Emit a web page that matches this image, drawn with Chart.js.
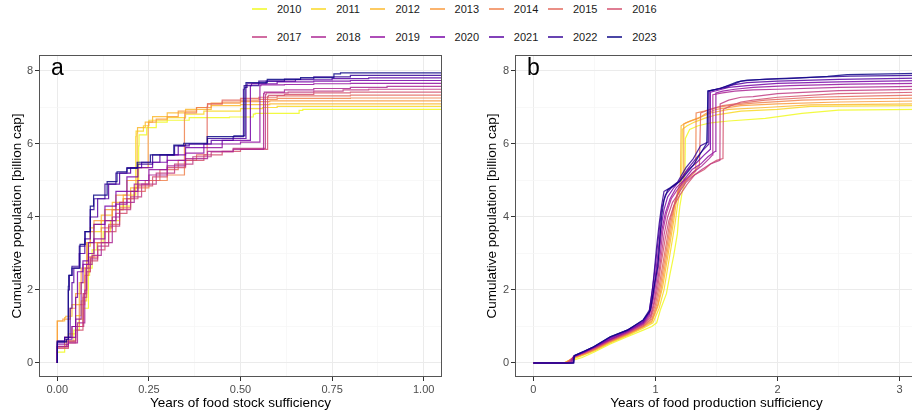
<!DOCTYPE html>
<html>
<head>
<meta charset="utf-8">
<title>Food sufficiency by year</title>
<script src="https://cdn.jsdelivr.net/npm/chart.js@4.4.1/dist/chart.umd.min.js"></script>
<style>
    html, body { margin: 0; padding: 0; background: #fff; overflow: hidden; }
    body { width: 912px; height: 416px; position: relative; font-family: 'Liberation Sans', Arial, sans-serif; }
    canvas { position: absolute; top: 0; }
    #chart-a { left: 0; }
    #chart-b { left: 456px; }
    .legend-item { position: absolute; height: 14px; display: flex; align-items: center; font-size: 11px; color: #1a1a1a; white-space: nowrap; }
    .legend-item .swatch { display: inline-block; width: 15px; height: 2px; margin-right: 10px; }
</style>
</head>
<body>
<div id="legend"></div>
<canvas id="chart-a" width="456" height="416"></canvas>
<canvas id="chart-b" width="462" height="416"></canvas>
<script>
/* =====================================================
   Data
   ===================================================== */
const years = ['2010', '2011', '2012', '2013', '2014', '2015', '2016',
               '2017', '2018', '2019', '2020', '2021', '2022', '2023'];
const yearColors = ['#F0F921', '#F9D824', '#FCB92E', '#F99B3D', '#F0824D', '#E3695E', '#D4526F',
                    '#C13C82', '#AB2693', '#9312A0', '#7603A7', '#5802A2', '#350598', '#0D0887'];

// panel a: [years of food stock sufficiency, cumulative population (billion)]
const stock2010 = [[0,0],[0,0.2],[0.02,0.3],[0.045,0.6],[0.06,0.9],[0.071,1.2],[0.085,1.5],[0.088,2.4],[0.095,2.6],[0.108,3.1],[0.125,3.3],[0.145,3.6],[0.17,3.9],[0.2,4.3],[0.213,4.7],[0.222,4.8],[0.223,5.95],[0.244,6.25],[0.27,6.45],[0.3,6.6],[0.36,6.65],[0.47,6.72],[0.535,6.74],[0.54,6.82],[0.66,6.84],[0.67,6.92],[1.1,6.95]];
const stock2011 = [[0,0],[0,0.3],[0.03,0.45],[0.05,0.8],[0.065,1.3],[0.08,1.7],[0.083,2.8],[0.1,3.3],[0.12,3.6],[0.15,3.9],[0.18,4.2],[0.2,4.5],[0.214,4.6],[0.215,6.2],[0.235,6.35],[0.25,6.5],[0.3,6.65],[0.35,6.72],[0.4,6.82],[0.5,6.9],[0.56,6.97],[0.6,7.0],[1.1,7.03]];
const stock2012 = [[0,0],[0,1.1],[0.02,1.15],[0.023,1.24],[0.04,1.28],[0.06,1.6],[0.075,2.2],[0.085,2.6],[0.09,3.2],[0.1,3.7],[0.12,3.8],[0.15,4.05],[0.18,4.4],[0.2,4.6],[0.218,4.8],[0.219,6.3],[0.24,6.45],[0.26,6.6],[0.3,6.75],[0.35,6.85],[0.42,6.95],[0.5,7.05],[0.58,7.08],[1.1,7.1]];
const stock2013 = [[0,0],[0,1.05],[0.015,1.15],[0.035,1.2],[0.05,1.5],[0.065,1.9],[0.08,2.6],[0.09,3.3],[0.1,3.6],[0.13,3.9],[0.16,4.2],[0.19,4.6],[0.22,5.0],[0.248,5.35],[0.249,6.5],[0.27,6.6],[0.3,6.68],[0.33,6.75],[0.38,6.9],[0.42,7.0],[0.5,7.12],[0.58,7.16],[1.1,7.18]];
const stock2014 = [[0,0],[0,0.35],[0.02,0.45],[0.04,0.7],[0.06,1.0],[0.075,1.6],[0.085,2.4],[0.1,2.9],[0.12,3.3],[0.15,3.7],[0.18,4.2],[0.21,4.5],[0.25,4.8],[0.3,5.0],[0.347,5.15],[0.348,6.7],[0.38,6.85],[0.41,7.0],[0.45,7.1],[0.5,7.15],[0.55,7.2],[0.6,7.22],[0.8,7.25],[1.1,7.26]];
const stock2015 = [[0,0],[0,0.3],[0.03,0.45],[0.05,0.6],[0.07,1.0],[0.08,1.9],[0.09,2.5],[0.11,2.9],[0.14,3.3],[0.17,3.8],[0.2,4.25],[0.24,4.7],[0.28,5.0],[0.33,5.3],[0.38,5.55],[0.409,5.7],[0.41,7.02],[0.45,7.1],[0.5,7.2],[0.55,7.25],[0.6,7.28],[0.8,7.32],[1.1,7.34]];
const stock2016 = [[0,0],[0,0.3],[0.03,0.4],[0.05,0.55],[0.07,0.9],[0.08,1.8],[0.09,2.5],[0.11,2.8],[0.13,3.1],[0.16,3.6],[0.19,4.1],[0.22,4.5],[0.26,4.85],[0.3,5.1],[0.35,5.35],[0.4,5.55],[0.45,5.7],[0.5,5.8],[0.574,5.85],[0.576,7.3],[0.62,7.33],[0.7,7.36],[0.8,7.4],[1.1,7.42]];
const stock2017 = [[0,0],[0,0.35],[0.025,0.45],[0.05,0.6],[0.072,1.0],[0.078,1.9],[0.09,2.6],[0.11,2.85],[0.14,3.2],[0.17,3.75],[0.2,4.2],[0.23,4.55],[0.27,4.9],[0.32,5.2],[0.37,5.45],[0.42,5.65],[0.48,5.78],[0.568,5.88],[0.57,7.35],[0.63,7.4],[0.7,7.42],[0.78,7.45],[0.85,7.48],[1.1,7.5]];
const stock2018 = [[0,0],[0,0.3],[0.03,0.45],[0.055,0.55],[0.075,1.1],[0.08,2.0],[0.095,2.7],[0.12,2.95],[0.15,3.3],[0.17,4.0],[0.21,4.4],[0.25,4.9],[0.3,5.15],[0.35,5.4],[0.41,5.6],[0.48,5.8],[0.563,5.85],[0.565,7.38],[0.62,7.42],[0.7,7.48],[0.8,7.52],[0.9,7.55],[1.1,7.58]];
const stock2019 = [[0,0],[0,0.35],[0.03,0.5],[0.05,0.7],[0.065,1.2],[0.07,2.2],[0.085,2.7],[0.1,3.0],[0.13,3.4],[0.16,3.9],[0.19,4.35],[0.22,4.7],[0.25,5.0],[0.3,5.3],[0.35,5.55],[0.4,5.75],[0.45,5.9],[0.5,6.0],[0.553,6.05],[0.556,7.6],[0.62,7.62],[0.7,7.63],[0.8,7.65],[1.1,7.66]];
const stock2020 = [[0,0],[0,0.4],[0.02,0.55],[0.04,0.65],[0.05,1.0],[0.055,1.8],[0.07,2.5],[0.085,2.8],[0.1,3.3],[0.13,3.8],[0.16,4.3],[0.19,4.7],[0.22,5.1],[0.26,5.35],[0.3,5.5],[0.35,5.7],[0.4,5.9],[0.45,6.0],[0.527,6.1],[0.53,7.6],[0.6,7.65],[0.7,7.7],[0.8,7.72],[1.1,7.74]];
const stock2021 = [[0,0],[0,0.45],[0.02,0.6],[0.035,0.7],[0.04,1.5],[0.045,2.2],[0.06,2.6],[0.075,3.0],[0.09,3.4],[0.11,4.0],[0.14,4.5],[0.17,4.9],[0.2,5.2],[0.23,5.35],[0.28,5.5],[0.33,5.7],[0.36,5.95],[0.42,6.0],[0.48,6.1],[0.515,6.15],[0.518,7.55],[0.57,7.65],[0.65,7.72],[0.75,7.76],[0.85,7.79],[1.1,7.81]];
const stock2022 = [[0,0],[0,0.4],[0.02,0.6],[0.03,0.7],[0.033,2.0],[0.04,2.4],[0.06,2.65],[0.075,3.2],[0.09,3.6],[0.1,4.2],[0.13,4.5],[0.16,4.9],[0.19,5.2],[0.22,5.35],[0.26,5.45],[0.32,5.7],[0.35,5.95],[0.41,6.0],[0.48,6.15],[0.508,6.2],[0.51,7.5],[0.55,7.6],[0.62,7.72],[0.7,7.78],[0.8,7.84],[1.1,7.88]];
const stock2023 = [[0,0],[0,0.35],[0.025,0.58],[0.03,0.65],[0.031,2.1],[0.04,2.4],[0.062,2.6],[0.076,3.25],[0.09,3.6],[0.099,4.3],[0.136,4.6],[0.163,4.97],[0.19,5.24],[0.218,5.33],[0.254,5.5],[0.318,5.7],[0.345,5.97],[0.409,6.02],[0.482,6.2],[0.512,6.22],[0.515,7.55],[0.573,7.68],[0.664,7.77],[0.755,7.82],[0.773,7.92],[1.1,7.95]];

// panel b: [years of food production sufficiency, cumulative population (billion)]
const prod2010 = [[0,0],[0.28,0],[0.3,0.05],[0.4,0.15],[0.5,0.3],[0.63,0.52],[0.77,0.72],[0.9,0.9],[0.97,1.0],[1.01,1.1],[1.04,1.45],[1.09,1.9],[1.12,2.45],[1.15,2.95],[1.18,3.55],[1.19,4.0],[1.2,4.3],[1.22,4.7],[1.24,4.9],[1.245,6.15],[1.28,6.4],[1.35,6.5],[1.45,6.58],[1.6,6.63],[1.9,6.7],[2.2,6.84],[2.5,6.93],[3.2,6.95]];
const prod2011 = [[0,0],[0.25,0],[0.3,0.08],[0.4,0.2],[0.5,0.33],[0.63,0.55],[0.77,0.75],[0.9,0.95],[0.98,1.1],[1.03,1.5],[1.07,2.0],[1.1,2.6],[1.13,3.2],[1.16,3.8],[1.18,4.3],[1.2,4.7],[1.215,4.95],[1.22,6.4],[1.26,6.5],[1.32,6.6],[1.4,6.7],[1.5,6.8],[1.7,6.9],[2.0,6.95],[2.27,7.03],[3.2,7.05]];
const prod2012 = [[0,0],[0.25,0],[0.32,0.12],[0.4,0.22],[0.5,0.35],[0.63,0.57],[0.77,0.77],[0.9,0.98],[0.97,1.12],[1.02,1.55],[1.06,2.1],[1.09,2.7],[1.12,3.3],[1.15,3.9],[1.17,4.4],[1.19,4.8],[1.205,5.0],[1.21,6.5],[1.25,6.58],[1.3,6.65],[1.38,6.75],[1.45,6.85],[1.6,6.95],[1.9,7.0],[2.27,7.07],[3.2,7.1]];
const prod2013 = [[0,0],[0.26,0],[0.33,0.15],[0.42,0.25],[0.5,0.36],[0.63,0.58],[0.77,0.78],[0.9,1.0],[0.97,1.15],[1.02,1.6],[1.05,2.1],[1.08,2.7],[1.11,3.3],[1.14,3.9],[1.16,4.4],[1.19,4.8],[1.23,5.0],[1.232,6.55],[1.28,6.62],[1.35,6.7],[1.42,6.85],[1.5,6.95],[1.7,7.05],[2.0,7.1],[2.5,7.15],[3.2,7.18]];
const prod2014 = [[0,0],[0.27,0],[0.33,0.16],[0.42,0.26],[0.5,0.38],[0.63,0.6],[0.77,0.8],[0.9,1.0],[0.97,1.2],[1.01,1.6],[1.04,2.1],[1.07,2.7],[1.1,3.3],[1.13,3.9],[1.16,4.4],[1.2,4.8],[1.25,5.0],[1.3,5.15],[1.33,5.25],[1.333,6.85],[1.4,6.9],[1.5,7.0],[1.6,7.05],[1.8,7.12],[2.2,7.2],[2.7,7.24],[3.2,7.26]];
const prod2015 = [[0,0],[0.27,0],[0.33,0.15],[0.42,0.27],[0.5,0.38],[0.63,0.6],[0.77,0.8],[0.9,1.02],[0.96,1.2],[1.0,1.6],[1.03,2.1],[1.06,2.7],[1.09,3.3],[1.12,3.9],[1.15,4.3],[1.19,4.7],[1.24,4.95],[1.3,5.2],[1.36,5.4],[1.37,6.85],[1.45,6.95],[1.55,7.05],[1.7,7.12],[1.9,7.2],[2.3,7.28],[2.8,7.32],[3.2,7.34]];
const prod2016 = [[0,0],[0.28,0],[0.33,0.17],[0.42,0.28],[0.5,0.4],[0.63,0.62],[0.77,0.82],[0.9,1.05],[0.96,1.25],[0.99,1.6],[1.02,2.1],[1.05,2.8],[1.08,3.4],[1.11,3.9],[1.15,4.3],[1.2,4.6],[1.26,4.9],[1.32,5.15],[1.4,5.3],[1.45,5.45],[1.5,5.55],[1.553,5.6],[1.556,6.95],[1.62,7.05],[1.7,7.15],[1.8,7.2],[2.0,7.28],[2.5,7.38],[3.2,7.42]];
const prod2017 = [[0,0],[0.29,0],[0.33,0.17],[0.42,0.3],[0.5,0.42],[0.63,0.63],[0.77,0.83],[0.9,1.06],[0.96,1.3],[0.99,1.7],[1.02,2.3],[1.05,3.0],[1.07,3.5],[1.1,4.0],[1.14,4.4],[1.19,4.65],[1.25,4.95],[1.3,5.1],[1.38,5.3],[1.45,5.45],[1.528,5.55],[1.53,7.1],[1.6,7.2],[1.7,7.28],[1.8,7.3],[2.0,7.38],[2.5,7.46],[3.2,7.5]];
const prod2018 = [[0,0],[0.3,0],[0.33,0.18],[0.42,0.3],[0.5,0.42],[0.63,0.64],[0.77,0.85],[0.9,1.08],[0.95,1.3],[0.98,1.7],[1.01,2.3],[1.04,3.0],[1.06,3.6],[1.09,4.1],[1.13,4.5],[1.18,4.75],[1.24,5.0],[1.3,5.2],[1.38,5.4],[1.44,5.6],[1.468,5.7],[1.47,7.35],[1.55,7.4],[1.65,7.45],[1.8,7.48],[2.0,7.5],[2.5,7.55],[3.2,7.58]];
const prod2019 = [[0,0],[0.31,0],[0.33,0.18],[0.42,0.3],[0.5,0.43],[0.63,0.65],[0.77,0.86],[0.9,1.1],[0.95,1.35],[0.98,1.8],[1.0,2.3],[1.03,3.0],[1.05,3.6],[1.08,4.1],[1.12,4.5],[1.17,4.8],[1.23,5.0],[1.3,5.3],[1.37,5.45],[1.43,5.65],[1.49,5.8],[1.495,7.4],[1.55,7.45],[1.65,7.5],[1.8,7.55],[2.1,7.6],[2.6,7.64],[3.2,7.66]];
const prod2020 = [[0,0],[0.32,0],[0.335,0.18],[0.42,0.3],[0.5,0.44],[0.63,0.68],[0.77,0.88],[0.9,1.12],[0.95,1.38],[0.98,1.9],[1.0,2.4],[1.02,3.0],[1.04,3.6],[1.07,4.2],[1.1,4.55],[1.15,4.8],[1.2,5.0],[1.27,5.3],[1.34,5.5],[1.4,5.7],[1.448,5.85],[1.45,7.42],[1.52,7.48],[1.6,7.55],[1.75,7.6],[2.0,7.66],[2.5,7.7],[3.2,7.74]];
const prod2021 = [[0,0],[0.33,0],[0.335,0.2],[0.42,0.32],[0.5,0.45],[0.63,0.7],[0.77,0.9],[0.9,1.15],[0.95,1.4],[0.97,1.9],[0.99,2.4],[1.01,3.0],[1.03,3.6],[1.05,4.2],[1.08,4.6],[1.13,4.8],[1.2,5.0],[1.26,5.3],[1.32,5.55],[1.38,5.8],[1.438,6.0],[1.44,7.45],[1.52,7.52],[1.6,7.6],[1.75,7.68],[2.0,7.72],[2.5,7.77],[3.2,7.81]];
const prod2022 = [[0,0],[0.33,0],[0.335,0.2],[0.42,0.33],[0.5,0.45],[0.63,0.72],[0.77,0.9],[0.9,1.18],[0.95,1.45],[0.975,2.0],[0.99,2.5],[1.01,3.2],[1.03,3.8],[1.05,4.3],[1.07,4.7],[1.12,4.8],[1.18,4.95],[1.25,5.35],[1.31,5.6],[1.37,5.95],[1.428,6.05],[1.43,7.45],[1.5,7.5],[1.58,7.55],[1.7,7.72],[1.9,7.78],[2.2,7.82],[2.6,7.86],[3.2,7.88]];
const prod2023 = [[0,0],[0.33,0],[0.335,0.2],[0.42,0.33],[0.49,0.44],[0.63,0.72],[0.77,0.9],[0.9,1.18],[0.96,1.45],[0.99,2.1],[1.02,2.65],[1.04,3.56],[1.05,4.0],[1.07,4.46],[1.1,4.74],[1.2,4.97],[1.31,5.42],[1.42,6.02],[1.43,7.45],[1.53,7.52],[1.67,7.7],[1.75,7.75],[2.13,7.8],[2.41,7.85],[2.57,7.9],[3.2,7.94]];

const stockSeries = [stock2010, stock2011, stock2012, stock2013, stock2014, stock2015, stock2016,
                     stock2017, stock2018, stock2019, stock2020, stock2021, stock2022, stock2023];
const prodSeries = [prod2010, prod2011, prod2012, prod2013, prod2014, prod2015, prod2016,
                    prod2017, prod2018, prod2019, prod2020, prod2021, prod2022, prod2023];

// axis ticks
const stockMajor = [0, 0.25, 0.5, 0.75, 1];
const stockMinor = [0.125, 0.375, 0.625, 0.875];
const stockLabels = ['0.00', '0.25', '0.50', '0.75', '1.00'];
const prodMajor = [0, 1, 2, 3];
const prodMinor = [0.5, 1.5, 2.5];
const prodLabels = ['0', '1', '2', '3'];
const popMajor = [0, 2, 4, 6, 8];
const popMinor = [1, 3, 5, 7];
const popLabels = ['0', '2', '4', '6', '8'];

const FONT = "'Liberation Sans', Arial, sans-serif";

function withAlpha(hex, a) {
    const n = parseInt(hex.slice(1), 16);
    return 'rgba(' + (n >> 16) + ',' + ((n >> 8) & 255) + ',' + (n & 255) + ',' + a + ')';
}

/* =====================================================
   Legend (HTML, two rows of seven)
   ===================================================== */
const legend = document.getElementById('legend');
years.forEach((yr, i) => {
    const item = document.createElement('div');
    item.className = 'legend-item';
    item.style.left = (252 + (i % 7) * 59.2) + 'px';
    item.style.top = (i < 7 ? 2 : 30) + 'px';
    item.innerHTML = '<span class="swatch" style="background:' + withAlpha(yearColors[i], 0.75) + '"></span>' + yr;
    legend.appendChild(item);
});

/* =====================================================
   Panel box + letter
   ===================================================== */
const panelFrame = {
    id: 'panelFrame',
    afterDraw(chart, args, opts) {
        const { ctx, chartArea: a } = chart;
        ctx.save();
        ctx.strokeStyle = '#555';
        ctx.lineWidth = 1;
        ctx.strokeRect(a.left + 0.5, a.top + 0.5, a.right - a.left - 1, a.bottom - a.top - 1);
        ctx.fillStyle = '#000';
        ctx.font = '23px ' + FONT;
        ctx.textBaseline = 'alphabetic';
        ctx.fillText(opts.letter, a.left + 12, a.top + 20);
        ctx.restore();
    }
};

function axisOptions(o) {
    const ticks = o.major.concat(o.minor).sort((p, q) => p - q);
    const isMajor = v => o.major.indexOf(v) !== -1;
    return {
        type: 'linear',
        min: o.min,
        max: o.max,
        afterBuildTicks: scale => { scale.ticks = ticks.map(v => ({ value: v })); },
        afterFit: scale => {
            if (o.vertical) scale.width = o.size;
            else scale.height = o.size;
        },
        border: { display: false },
        grid: {
            color: c => (c.tick && isMajor(c.tick.value)) ? '#EBEBEB' : '#F5F5F5',
            lineWidth: c => (c.tick && isMajor(c.tick.value)) ? 1 : 0.7,
            tickColor: c => (c.tick && isMajor(c.tick.value)) ? '#333333' : 'rgba(0,0,0,0)',
            tickLength: 4,
            drawTicks: true
        },
        ticks: {
            autoSkip: false,
            maxRotation: 0,
            padding: 2,
            color: '#4D4D4D',
            font: { family: FONT, size: 11 },
            callback: v => isMajor(v) ? o.labels[o.major.indexOf(v)] : ''
        },
        title: {
            display: true,
            text: o.title,
            color: '#000',
            font: { family: FONT, size: 13.5 },
            padding: o.titlePad
        }
    };
}

function buildChart(canvasId, series, letter, stepped, rightPad, xAxis, yAxis) {
    return new Chart(document.getElementById(canvasId), {
        type: 'line',
        data: {
            datasets: series.map((pts, i) => ({
                label: years[i],
                data: pts.map(p => ({ x: p[0], y: p[1] })),
                borderColor: withAlpha(yearColors[i], 0.85),
                borderWidth: 1.2,
                pointRadius: 0,
                tension: 0,
                stepped: stepped,
                fill: false,
                order: series.length - i
            }))
        },
        options: {
            responsive: false,
            animation: false,
            devicePixelRatio: 1,
            layout: { padding: { top: 55, right: rightPad, bottom: 0, left: 0 } },
            plugins: {
                legend: { display: false },
                tooltip: { enabled: false },
                panelFrame: { letter: letter }
            },
            scales: { x: xAxis, y: yAxis }
        },
        plugins: [panelFrame]
    });
}

buildChart('chart-a', stockSeries, 'a', 'after', 14,
    axisOptions({ major: stockMajor, minor: stockMinor, labels: stockLabels, min: -0.05, max: 1.05,
                  size: 39, title: 'Years of food stock sufficiency', titlePad: { top: 2, bottom: 5 } }),
    axisOptions({ major: popMajor, minor: popMinor, labels: popLabels, min: -0.384, max: 8.438,
                  vertical: true, size: 39, title: 'Cumulative population [billion cap]', titlePad: { top: 9, bottom: 2 } }));

buildChart('chart-b', prodSeries, 'b', false, 0,
    axisOptions({ major: prodMajor, minor: prodMinor, labels: prodLabels, min: -0.15, max: 3.15,
                  size: 39, title: 'Years of food production sufficiency', titlePad: { top: 2, bottom: 5 } }),
    axisOptions({ major: popMajor, minor: popMinor, labels: popLabels, min: -0.384, max: 8.438,
                  vertical: true, size: 59, title: 'Cumulative population [billion cap]', titlePad: { top: 28.5, bottom: 2 } }));
</script>
</body>
</html>
